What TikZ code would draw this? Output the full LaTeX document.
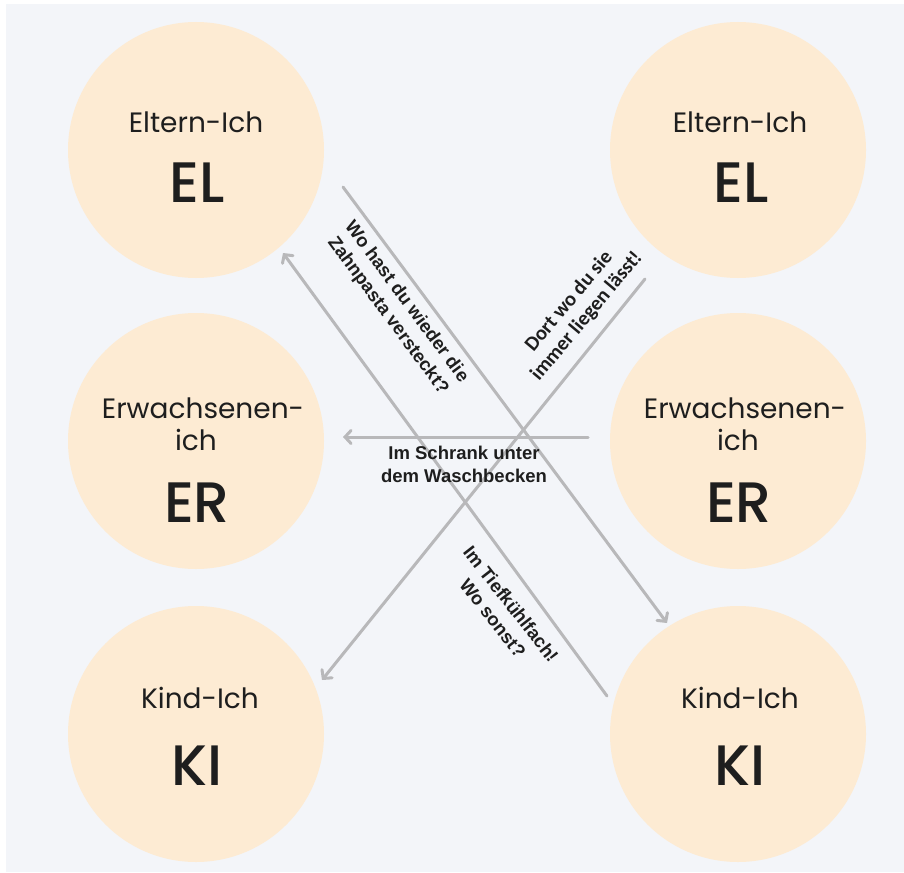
\documentclass[tikz,border=0pt]{standalone}
\usepackage{fontspec}
\setmainfont{Poppins}
\newfontfamily\popmed{Poppins}[UprightFont=* Medium]
\newfontfamily\arialb{Liberation Sans}
\newfontfamily\carl{Carlito}
\usetikzlibrary{arrows.meta}
\definecolor{bg}{HTML}{F3F5F9}
\definecolor{peach}{HTML}{FDEBD3}
\definecolor{arr}{HTML}{B8B8BA}
\definecolor{ink}{HTML}{1E1E1E}
\begin{document}
\begin{tikzpicture}[x=1pt,y=-1pt,
  ego/.style={circle,fill=peach,minimum size=256pt,inner sep=0pt},
  smalltxt/.style={font=\fontsize{28}{33}\selectfont,text=ink,anchor=base,align=center},
  bigtxt/.style={font=\popmed\fontsize{57}{60}\selectfont,text=ink,anchor=base},
  conn/.style={draw=arr,line width=3pt,line cap=round,-{Straight Barb[length=6pt,width=13pt,line cap=round]}},
  lbl/.style={font=\arialb\bfseries\fontsize{18.5}{23}\selectfont,text=ink,align=center,inner sep=0pt},
  lblc/.style={font=\carl\bfseries\fontsize{20.5}{23}\selectfont,text=ink,align=center,inner sep=0pt}]
\useasboundingbox (0,0) rectangle (904,872);
\fill[white] (0,0) rectangle (904,872);
\fill[bg] (6,4) rectangle (904,872);
% circles
\node[ego] (elL) at (196,150) {};
\node[ego] (erL) at (196,441) {};
\node[ego] (kiL) at (196,734) {};
\node[ego] (elR) at (738,150) {};
\node[ego] (erR) at (738,441) {};
\node[ego] (kiR) at (738,734) {};
% texts
\node[smalltxt] (t1) at (196,132) {Eltern-Ich};
\node[bigtxt] (b1) at (197,202) {EL};
\node[smalltxt] (t2) at (740,132) {Eltern-Ich};
\node[bigtxt] (b2) at (741,202) {EL};
\node[smalltxt] (t3) at (203,418) {Erwachsenen-};
\node[smalltxt] (t3b) at (196,450) {ich};
\node[bigtxt] (b3) at (197,522) {ER};
\node[smalltxt] (t4) at (745,418) {Erwachsenen-};
\node[smalltxt] (t4b) at (738,450) {ich};
\node[bigtxt] (b4) at (739,522) {ER};
\node[smalltxt] (t5) at (200,708) {Kind-Ich};
\node[bigtxt] (b5) at (197,785) {KI};
\node[smalltxt] (t6) at (740,708) {Kind-Ich};
\node[bigtxt] (b6) at (740,785) {KI};
% connector ends
\coordinate (a1s) at (343,187);
\coordinate (a1e) at (667,623);
\coordinate (a2s) at (607,696);
\coordinate (a2e) at (283,253);
\coordinate (a3s) at (588,437);
\coordinate (a3e) at (343,437);
\coordinate (a4s) at (645,279);
\coordinate (a4e) at (322,680);
\draw[conn] (a1s) -- (a1e);
\draw[conn] (a2s) -- (a2e);
\draw[conn] (a3s) -- (a3e);
\draw[conn] (a4s) -- (a4e);
% labels
\node[lbl,rotate=-53.5] (l1) at (397,309) {Wo hast du wieder die\\Zahnpasta versteckt?};
\node[lblc,rotate=50] (l2) at (578,309) {Dort wo du sie\\immer liegen lässt!};
\node[lbl] (l3) at (464,464) {Im Schrank unter\\dem Waschbecken};
\node[lbl,rotate=-52] (l4) at (502,611) {Im Tiefkühlfach!\\Wo sonst?};
\end{tikzpicture}
\end{document}
